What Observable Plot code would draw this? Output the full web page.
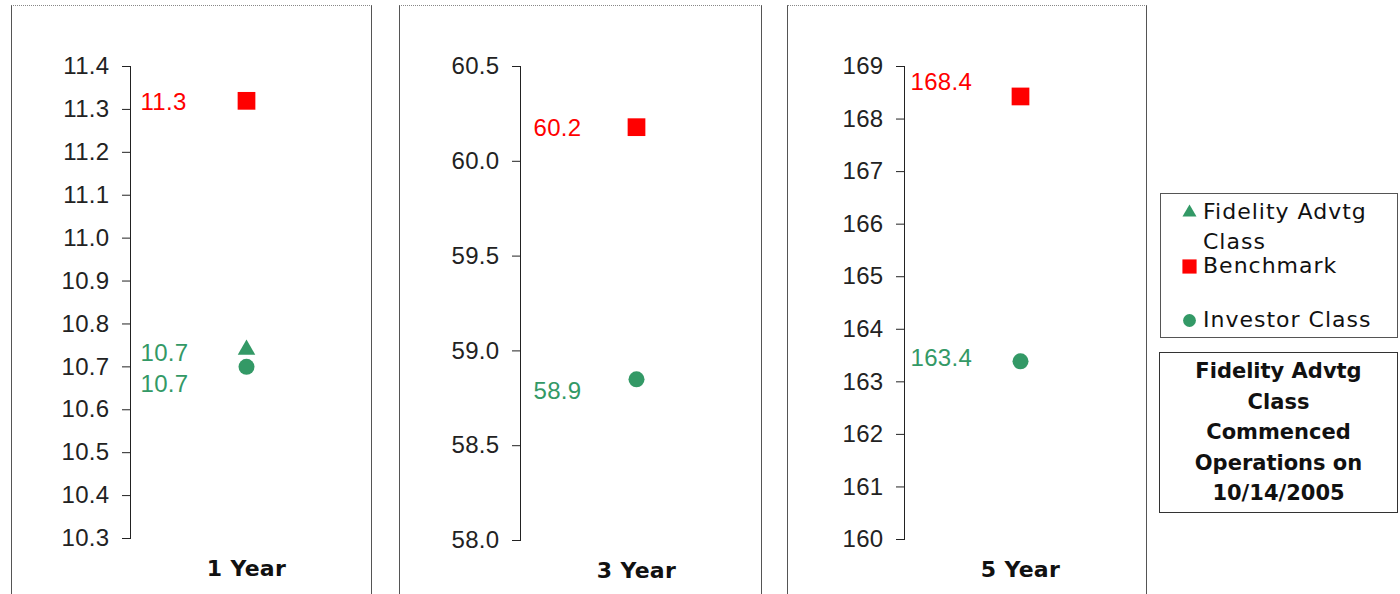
<!DOCTYPE html>
<html>
<head>
<meta charset="utf-8">
<script src="https://cdn.jsdelivr.net/npm/d3@7"></script>
<script src="https://cdn.jsdelivr.net/npm/@observablehq/plot@0.6"></script>
<style>
  html, body { margin: 0; padding: 0; background: #fff; }
  body { width: 1400px; height: 594px; overflow: hidden; position: relative; font-family: "DejaVu Sans", sans-serif; color: #111; }
  .panel { position: absolute; top: 5px; height: 640px; box-sizing: border-box;
           border-left: 1px solid #555; border-right: 1px solid #555; border-top: 1px dotted #888; }
  .panel svg { display: block; }
  .panel svg text { letter-spacing: 0.3px; }
  #legend { position: absolute; left: 1160px; top: 193px; width: 238px; height: 145px; box-sizing: border-box;
            border: 1px solid #555; font-size: 22px; letter-spacing: 1px; color: #111; }
  #legend .item { position: absolute; left: 0; display: flex; align-items: flex-start; }
  #legend .sym { width: 36px; display: flex; justify-content: flex-end; }
  #legend .lbl { line-height: 30px; margin-left: 6px; }
  #note { position: absolute; left: 1159px; top: 352px; width: 239px; height: 161px; box-sizing: border-box;
          border: 1px solid #333; text-align: center; font-weight: bold; font-size: 21px; line-height: 30.5px;
          padding-top: 3px; color: #111; }
</style>
</head>
<body>
<div id="root"></div>
<div id="legend"></div>
<div id="note"></div>
<script>
// ---- data ----
const periods = ["1 Year", "3 Year", "5 Year"];
const seriesNames = ["Fidelity Advtg Class", "Benchmark", "Investor Class"];
const advtgClass = [10.74, null, null];
const benchmark = [11.32, 60.18, 168.43];
const investorClass = [10.70, 58.85, 163.39];
const yDomains = [[10.3, 11.4], [58.0, 60.5], [160, 169]];
const yTicks = [
  [10.3, 10.4, 10.5, 10.6, 10.7, 10.8, 10.9, 11.0, 11.1, 11.2, 11.3, 11.4],
  [58.0, 58.5, 59.0, 59.5, 60.0, 60.5],
  [160, 161, 162, 163, 164, 165, 166, 167, 168, 169]
];
const tickFormats = [".1f", ".1f", "d"];
const noteLines = ["Fidelity Advtg", "Class", "Commenced", "Operations on", "10/14/2005"];

// ---- styles / layout (not data) ----
const green = "#339966", red = "#ff0000";
const seriesStyle = [
  {symbol: "triangle", color: green, r: 6.5},
  {symbol: "square", color: red, r: 10},
  {symbol: "circle", color: green, r: 8}
];
const seriesValues = [advtgClass, benchmark, investorClass];
const panelLayout = [
  {left: 11, width: 361, marginLeft: 118, marginRight: 9, marginBottom: 56, labelDx: -106, labelDy: [4, 1, 17]},
  {left: 399, width: 363, marginLeft: 120, marginRight: 9, marginBottom: 54, labelDx: -103, labelDy: [0, 1, 12]},
  {left: 787, width: 360, marginLeft: 116, marginRight: 10, marginBottom: 55, labelDx: -110, labelDy: [0, -14, -3]}
];

const fmtLabel = d3.format(".1f");

periods.forEach((period, i) => {
  const L = panelLayout[i];
  const marks = [
    Plot.frame({anchor: "left", stroke: "#222"}),
    Plot.axisY({ticks: yTicks[i], tickFormat: d3.format(tickFormats[i]), tickSize: 8, tickPadding: 13, label: null,
                fontSize: 24, fontFamily: "Liberation Sans, Arial, sans-serif", fill: "#222", stroke: "#222"}),
    Plot.axisX({tickSize: 0, tickPadding: 22, fontSize: 22, fontWeight: "bold", label: null,
                fontFamily: "DejaVu Sans, Verdana, sans-serif", fill: "#111"})
  ];
  seriesNames.forEach((name, s) => {
    const v = seriesValues[s][i];
    if (v == null) return;
    const rows = [{period, series: name, value: v}];
    const st = seriesStyle[s];
    marks.push(Plot.dot(rows, {x: "period", y: "value", symbol: () => st.symbol, fill: st.color, stroke: "none", r: st.r}));
    marks.push(Plot.text(rows, {x: "period", y: "value", text: d => fmtLabel(d.value), fill: st.color,
      textAnchor: "start", lineAnchor: "middle", dx: L.labelDx, dy: L.labelDy[s],
      fontSize: 24, fontFamily: "Liberation Sans, Arial, sans-serif"}));
  });
  const chart = Plot.plot({
    width: L.width - 2, height: 588,
    marginLeft: L.marginLeft, marginRight: L.marginRight, marginTop: 60, marginBottom: L.marginBottom,
    x: {type: "point", domain: [period], label: null},
    y: {domain: yDomains[i], label: null},
    symbol: {type: "identity"},
    marks
  });
  const div = document.createElement("div");
  div.className = "panel";
  div.style.left = L.left + "px";
  div.style.width = L.width + "px";
  div.appendChild(chart);
  document.body.appendChild(div);
});

// ---- legend ----
const legend = document.getElementById("legend");
const legendTops = [3, 57, 111];
const legendLabels = [["Fidelity Advtg", "Class"], ["Benchmark"], ["Investor Class"]];
seriesNames.forEach((name, s) => {
  const st = seriesStyle[s];
  const item = document.createElement("div");
  item.className = "item";
  item.style.top = legendTops[s] + "px";
  const sym = document.createElement("div");
  sym.className = "sym";
  sym.style.height = "30px";
  sym.style.alignItems = "center";
  const sw = Plot.dot([0], {x: 0, y: 0, symbol: () => st.symbol, fill: st.color, r: st.r * 0.8})
    .plot({width: 16, height: 16, margin: 0, inset: 0, x: {domain: [-1, 1], axis: null}, y: {domain: [-1, 1], axis: null}, symbol: {type: "identity"}});
  sw.style.overflow = "visible";
  sym.appendChild(sw);
  const lbl = document.createElement("div");
  lbl.className = "lbl";
  lbl.innerHTML = legendLabels[s].join("<br>");
  item.appendChild(sym);
  item.appendChild(lbl);
  legend.appendChild(item);
});

// ---- note ----
document.getElementById("note").innerHTML = noteLines.join("<br>");
</script>
</body>
</html>
